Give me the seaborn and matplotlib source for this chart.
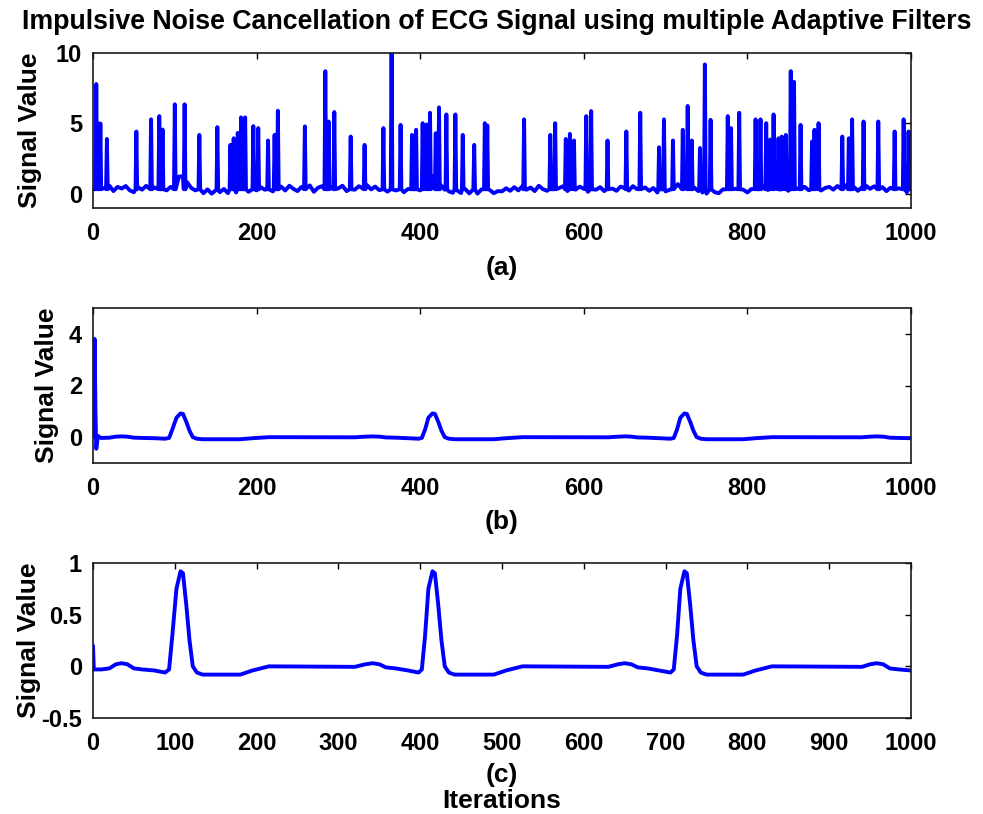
import numpy as np
import pandas as pd
import matplotlib
matplotlib.use("Agg")
import matplotlib.pyplot as plt
import seaborn as sns

# ---------------- data ----------------
title = "Impulsive Noise Cancellation of ECG Signal using multiple Adaptive Filters"
panel_labels = ["(a)", "(b)", "(c)"]
y_label = "Signal Value"
x_label = "Iterations"

# clean ECG (panel c) vertices
ecg_x = [0, 1, 10, 20, 28, 35, 42, 50, 60, 75, 88, 93, 97, 102, 107, 110, 114, 118, 122, 127, 134,
         180, 195, 205, 215, 320, 333, 342, 350, 358, 370, 385, 398, 402, 406, 410, 415, 418, 422,
         426, 430, 435, 442, 490, 505, 515, 525, 630, 642, 650, 658, 666, 678, 692, 706, 710, 714,
         718, 723, 726, 730, 734, 738, 743, 750, 795, 810, 820, 830, 940, 950, 958, 966, 974, 985, 1000]
ecg_y = [0.20, -0.03, -0.03, -0.02, 0.02, 0.03, 0.02, -0.02, -0.03, -0.04, -0.06, -0.03, 0.30, 0.75,
         0.92, 0.90, 0.60, 0.25, 0.00, -0.06, -0.08, -0.08, -0.04, -0.02, 0.00, -0.005, 0.02, 0.03,
         0.02, -0.01, -0.02, -0.04, -0.06, -0.03, 0.30, 0.75, 0.92, 0.90, 0.60, 0.25, 0.00, -0.06,
         -0.08, -0.08, -0.04, -0.02, 0.00, -0.005, 0.02, 0.03, 0.02, -0.01, -0.02, -0.04, -0.06,
         -0.03, 0.30, 0.75, 0.92, 0.90, 0.60, 0.25, 0.00, -0.06, -0.08, -0.08, -0.04, -0.02, 0.00,
         -0.005, 0.02, 0.03, 0.02, -0.02, -0.03, -0.04]

# filter output (panel b): start-up transient, then the ECG
b_start_x = [0, 1, 2, 3, 4, 5, 6, 8]
b_start_y = [0.0, 1.5, 3.8, 1.0, -0.45, -0.2, 0.05, 0.0]

# noisy input (panel a): baseline every 5 samples
a_base_x = list(range(0, 1001, 5))
a_base_y = [
    0.35, 0.55, 0.15, 0.45, 0.58, 0.20, 0.50, 0.38, 0.56, 0.25, 0.12, 0.48, 0.30, 0.57, 0.22, 0.46, 0.10, 0.40, 0.25, 0.50,
    0.93, 1.23, 1.25, 0.83, 0.43, 0.25, 0.10, 0.05, 0.32, 0.02, 0.25, 0.12, 0.35, 0.05, 0.38, 0.10, 0.22, 0.42, 0.15, 0.33,
    0.25, 0.48, 0.30, 0.55, 0.18, 0.42, 0.52, 0.24, 0.58, 0.36, 0.20, 0.50, 0.34, 0.60, 0.15, 0.44, 0.55, 0.28, 0.48, 0.22,
    0.40, 0.58, 0.20, 0.46, 0.30, 0.55, 0.38, 0.62, 0.32, 0.52, 0.26, 0.42, 0.16, 0.48, 0.24, 0.40, 0.12, 0.35, 0.22, 0.20,
    0.25, 0.53, 1.08, 1.25, 1.08, 0.63, 0.30, 0.18, 0.08, 0.25, 0.06, 0.35, 0.04, 0.22, 0.02, 0.32, 0.12, 0.28, 0.05, 0.20,
    0.18, 0.40, 0.22, 0.48, 0.25, 0.55, 0.30, 0.45, 0.20, 0.58, 0.34, 0.22, 0.50, 0.15, 0.42, 0.55, 0.20, 0.46, 0.30, 0.52,
    0.36, 0.15, 0.56, 0.30, 0.48, 0.20, 0.60, 0.38, 0.22, 0.52, 0.40, 0.24, 0.55, 0.34, 0.14, 0.46, 0.22, 0.42, 0.10, 0.32,
    0.18, 0.30, 0.42, 0.70, 1.00, 0.98, 0.75, 0.45, 0.20, 0.10, 0.02, 0.25, 0.12, 0.05, 0.32, 0.15, 0.08, 0.36, 0.20, 0.30,
    0.10, 0.35, 0.22, 0.45, 0.52, 0.28, 0.46, 0.58, 0.30, 0.48, 0.22, 0.55, 0.38, 0.16, 0.50, 0.26, 0.44, 0.56, 0.24, 0.42,
    0.50, 0.30, 0.56, 0.40, 0.62, 0.34, 0.50, 0.22, 0.46, 0.58, 0.36, 0.54, 0.30, 0.48, 0.20, 0.44, 0.18, 0.40, 0.25, 0.12,
    0.30]
spike_x = [4, 6, 9, 17, 53, 71, 81, 85, 100, 112, 130, 152, 168, 172, 177, 181, 186, 196, 202, 214, 222, 226,
           259, 284, 288, 295, 315, 332, 355, 365, 376, 390, 395, 403, 408, 412, 419, 423, 432, 443, 452, 466, 479, 482,
           527, 559, 565, 578, 583, 588, 603, 609, 629, 652, 669, 692, 698, 709, 721, 727, 732, 742, 748, 755,
           776, 780, 790, 810, 816, 823, 828, 832, 838, 842, 847, 853, 857, 865, 879, 882, 887, 916, 924, 928,
           942, 960, 980, 991, 997]
spike_y = [7.8, 5.0, 5.0, 3.9, 4.43, 5.29, 5.52, 4.57, 6.36, 6.36, 4.19, 4.74, 3.48, 3.95, 4.33, 5.43, 5.43, 4.81, 4.67, 3.79, 4.19, 5.9,
           4.79, 8.71, 5.14, 5.81, 4.07, 3.48, 4.67, 10.5, 4.9, 4.19, 4.55, 5.02, 4.93, 5.76, 4.31, 6.14, 5.64, 5.64, 4.19, 3.48, 5.02, 4.86,
           5.29, 4.19, 5.02, 3.9, 4.26, 3.79, 5.52, 5.88, 3.79, 4.43, 5.76, 3.31, 5.29, 3.79, 4.55, 6.24, 3.79, 3.26, 9.19, 5.26,
           5.52, 4.67, 5.76, 5.29, 5.29, 5.02, 3.86, 5.64, 3.95, 4.07, 4.19, 8.71, 7.95, 4.9, 3.71, 4.55, 5.02, 4.07, 3.95, 5.29,
           5.14, 5.14, 4.43, 5.29, 4.43]
spike_floor = 0.33

# ---------------- build series ----------------
pts = dict(zip(a_base_x, a_base_y))
sset = set(spike_x)
for n, h in zip(spike_x, spike_y):
    pts[n] = h
    for m in (n - 1, n + 1):
        if m not in sset and 0 <= m <= 1000:
            pts[m] = spike_floor
a_x = sorted(pts)
df_a = pd.DataFrame({"x": a_x, "y": [pts[k] for k in a_x]})

b_x = b_start_x + [x for x in ecg_x if x >= 10]
b_y = b_start_y + [y for x, y in zip(ecg_x, ecg_y) if x >= 10]
df_b = pd.DataFrame({"x": b_x, "y": b_y})
df_c = pd.DataFrame({"x": ecg_x, "y": ecg_y})

# ---------------- style ----------------
sns.set_theme(style="white")
plt.rcParams["font.family"] = ["Liberation Sans", "DejaVu Sans"]
plt.rcParams["font.weight"] = "bold"
plt.rcParams["axes.labelweight"] = "bold"
plt.rcParams["text.color"] = "black"
plt.rcParams["axes.labelcolor"] = "black"
plt.rcParams["xtick.color"] = "black"
plt.rcParams["ytick.color"] = "black"

fig = plt.figure(figsize=(9.83, 8.14), dpi=100)
fig.patch.set_facecolor("white")

W = 818 / 983
H = 155 / 814
L = 93 / 983
rects = [(L, 1 - 208 / 814, W, H), (L, 1 - 463 / 814, W, H), (L, 1 - 718 / 814, W, H)]
dfs = [df_a, df_b, df_c]
ylims = [(-1, 10), (-1, 5), (-0.5, 1)]
yticks = [[0, 5, 10], [0, 2, 4], [-0.5, 0, 0.5, 1]]
ytl = [["0", "5", "10"], ["0", "2", "4"], ["-0.5", "0", "0.5", "1"]]
xticks = [list(range(0, 1001, 200)), list(range(0, 1001, 200)), list(range(0, 1001, 100))]
ylabelpads = [10, 7, 0]
xlabelpads = [8, 7, 6]

for i in range(3):
    ax = fig.add_axes(rects[i])
    sns.lineplot(data=dfs[i], x="x", y="y", ax=ax, color="#0000ff", linewidth=2.8,
                 estimator=None, sort=False)
    ax.set_xlim(0, 1000)
    ax.set_ylim(*ylims[i])
    ax.set_xticks(xticks[i])
    ax.set_xticklabels([str(t) for t in xticks[i]])
    ax.set_yticks(yticks[i])
    ax.set_yticklabels(ytl[i])
    ax.tick_params(axis="x", pad=10)
    ax.tick_params(axis="y", pad=8)
    ax.tick_params(direction="in", length=4, width=1, top=True, right=True,
                   labelsize=17, colors="black")
    for lab in ax.get_xticklabels() + ax.get_yticklabels():
        lab.set_fontweight("bold")
    for sp in ax.spines.values():
        sp.set_visible(True)
        sp.set_color("#1a1a1a")
        sp.set_linewidth(1.2)
    ax.set_ylabel(y_label, fontsize=19, fontweight="bold", labelpad=ylabelpads[i])
    if i < 2:
        ax.set_xlabel(panel_labels[i], fontsize=19, fontweight="bold", labelpad=xlabelpads[i])
    else:
        ax.set_xlabel(panel_labels[i] + "\n" + x_label, fontsize=19, fontweight="bold",
                      labelpad=xlabelpads[i], linespacing=1.1)

fig.text(497 / 983, 1 - 22 / 814, title, ha="center", va="center", fontsize=19.3,
         fontweight="bold")

fig.savefig("out.png", dpi=100, facecolor="white")
